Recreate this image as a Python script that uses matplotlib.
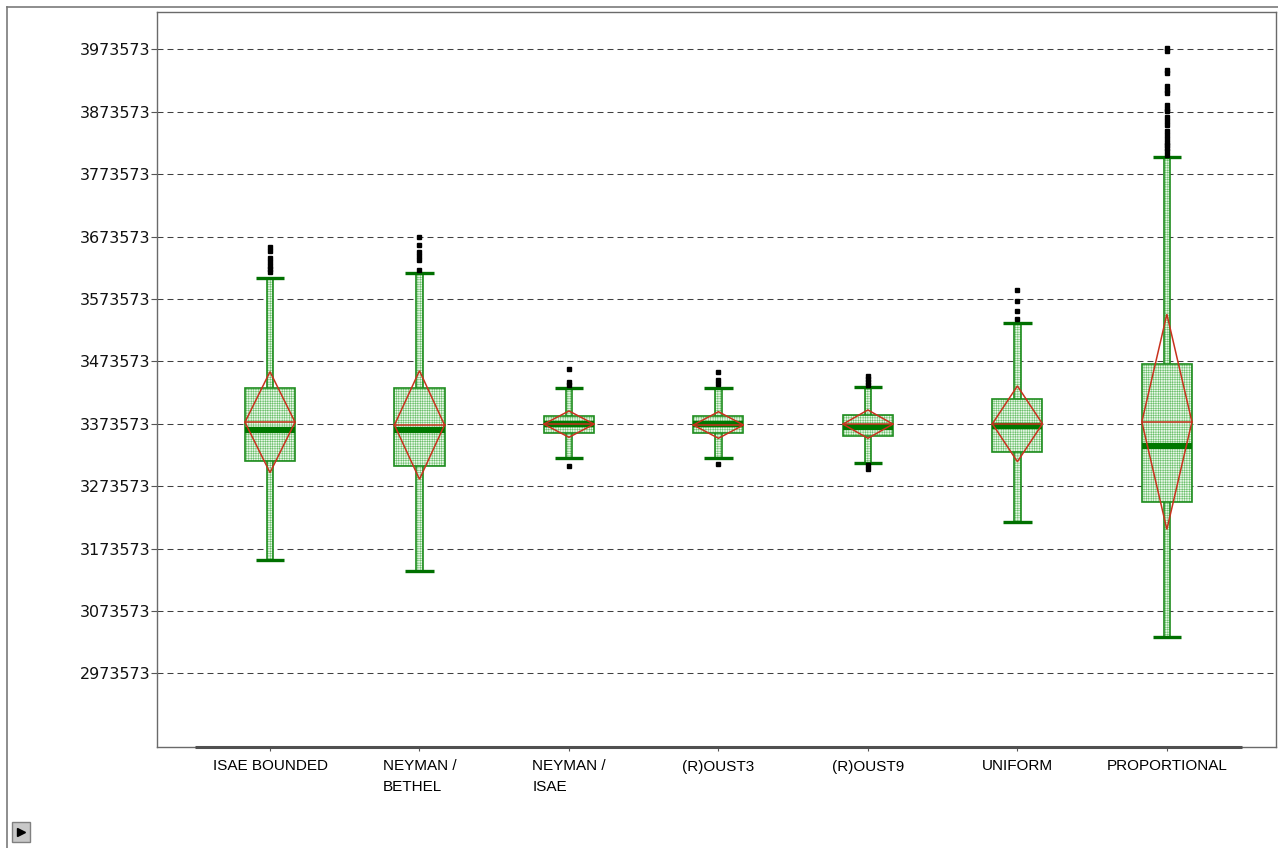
import matplotlib
matplotlib.use('Agg')
import matplotlib.pyplot as plt
from matplotlib.patches import Rectangle, Polygon
from matplotlib.lines import Line2D
import numpy as np

# values
labels = ['ISAE BOUNDED', 'NEYMAN /\nBETHEL', 'NEYMAN /\nISAE', '(R)OUST3',
          '(R)OUST9', 'UNIFORM', 'PROPORTIONAL']
whisk_lo = [3155100, 3138000, 3318100, 3318100, 3311100, 3215700, 3031200]
q1 = [3314300, 3305800, 3358200, 3358200, 3353900, 3327600, 3248000]
medians = [3363500, 3363000, 3373100, 3373000, 3368800, 3370200, 3338600]
q3 = [3431300, 3431300, 3385900, 3386400, 3387500, 3412800, 3469800]
whisk_hi = [3606600, 3614600, 3430300, 3430300, 3432900, 3535200, 3801200]
means = [3376000, 3371500, 3372900, 3371500, 3372900, 3373400, 3376600]
ci_half = [80900, 87000, 21100, 21300, 22700, 60700, 172400]
outliers = [
    [3656700, 3650300, 3639100, 3633000, 3627000, 3621000, 3616500],
    [3672800, 3660000, 3648700, 3642300, 3636000, 3620000],
    [3461200, 3440000, 3435500, 3306300],
    [3455900, 3443000, 3436500, 3308500],
    [3450000, 3445000, 3440400, 3435600, 3307400, 3301000],
    [3588500, 3569800, 3553900, 3540600],
    [3975500, 3971000, 3940600, 3936000, 3915300, 3908900, 3903000, 3883600,
     3878000, 3874100, 3864600, 3858000, 3851900, 3842400,
     3836000, 3829700, 3824000, 3820200, 3815000, 3810700, 3804400],
]
yticks = np.arange(2973573, 3973574, 100000)

plt.rcParams['lines.scale_dashes'] = False
plt.rcParams['hatch.linewidth'] = 0.4

green = '#1e8c1e'
hatch_green = '#6cc06c'
dark_green = '#007000'
red = '#c8321e'

fig = plt.figure(figsize=(12.78, 8.48), dpi=100)
ax = fig.add_axes([157 / 1278, 101 / 848, 1119 / 1278, 735 / 848])

box_w = 0.335
strip_w = 0.045
cap_w = 0.19


def hatched_rect(x0, y0, w, h, dens, z):
    # dotted fill first, then the solid outline on top
    ax.add_patch(Rectangle((x0, y0), w, h, facecolor='#eaf8ea', edgecolor=hatch_green,
                           hatch=dens, lw=0, zorder=z))
    ax.add_patch(Rectangle((x0, y0), w, h, fill=False, edgecolor=green, lw=1.2, zorder=z))


for i in range(len(labels)):
    hatched_rect(i - strip_w / 2, whisk_lo[i], strip_w, whisk_hi[i] - whisk_lo[i], '+++++++', 3)
    hatched_rect(i - box_w / 2, q1[i], box_w, q3[i] - q1[i], '+++++++', 4)
    # caps
    ax.plot([i - cap_w / 2, i + cap_w / 2], [whisk_lo[i]] * 2, color=dark_green, lw=2.4,
            solid_capstyle='butt', zorder=5)
    ax.plot([i - cap_w / 2, i + cap_w / 2], [whisk_hi[i]] * 2, color=dark_green, lw=2.4,
            solid_capstyle='butt', zorder=5)
    # median
    ax.plot([i - box_w / 2, i + box_w / 2], [medians[i]] * 2, color='#007800', lw=4.5,
            solid_capstyle='butt', zorder=6)
    # mean line and diamond
    ax.plot([i - box_w / 2, i + box_w / 2], [means[i]] * 2, color=red, lw=1.1, zorder=7)
    ax.add_patch(Polygon([[i - box_w / 2, means[i]], [i, means[i] + ci_half[i]],
                          [i + box_w / 2, means[i]], [i, means[i] - ci_half[i]]],
                         closed=True, fill=False, edgecolor=red, lw=1.1, zorder=7))
    # outliers
    ax.plot([i] * len(outliers[i]), outliers[i], ls='none', marker='s', ms=3.2,
            color='black', mec='black', zorder=8)

ax.set_xlim(-0.756, 6.73)
ax.set_ylim(2855467, 4033349)

ax.set_yticks(yticks)
ax.set_yticklabels([str(v) for v in yticks], fontsize=11.5, family='DejaVu Sans', color='#111111')
ax.set_xticks(range(len(labels)))
ax.set_xticklabels(labels, fontsize=11, family='Liberation Sans', linespacing=1.6,
                   multialignment='left')
ax.tick_params(axis='y', length=4, width=0.8, color='#555555', pad=1)
ax.tick_params(axis='x', length=3, width=0.8, color='#555555', pad=6)

ax.yaxis.grid(True, color='#404040', lw=0.75, ls=(0, (4.3, 2.9)))
ax.xaxis.grid(False)
ax.set_axisbelow(True)

for side in ['left', 'right', 'top', 'bottom']:
    ax.spines[side].set_color('#6a6a6a')
    ax.spines[side].set_linewidth(1.0)

# darker category axis line
ax.plot([-0.5, 6.5], [2855467, 2855467], color='#505050', lw=2.2, clip_on=False, zorder=9,
        solid_capstyle='butt')

# outer frame of the panel
fig.add_artist(Line2D([7 / 1278, 7 / 1278], [0, 841 / 848], color='#7a7a7a', lw=1.2,
                      transform=fig.transFigure))
fig.add_artist(Line2D([7 / 1278, 1], [841 / 848, 841 / 848], color='#7a7a7a', lw=1.2,
                      transform=fig.transFigure))

# small play button at bottom left
fig.add_artist(Rectangle((12 / 1278, 6 / 848), 18 / 1278, 20 / 848, facecolor='#c8c8c8',
                         edgecolor='#808080', lw=1, transform=fig.transFigure))
fig.add_artist(Line2D([21 / 1278], [16 / 848], marker='>', ms=6, color='black', ls='none',
                      transform=fig.transFigure))

fig.savefig('out.png', dpi=100)
